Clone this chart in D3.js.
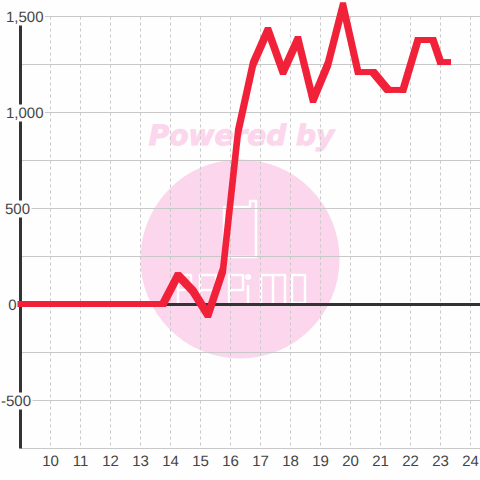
<!DOCTYPE html>
<html>
<head>
<meta charset="utf-8">
<script src="https://cdn.jsdelivr.net/npm/d3@7"></script>
<style>
  html, body { margin: 0; padding: 0; background: #fdfefd; }
  svg { display: block; }
  text { font-family: "Liberation Sans", sans-serif; text-rendering: geometricPrecision; }
</style>
</head>
<body>
<svg id="chart" width="480" height="480"></svg>
<script>
const hours = [9, 9.25, 9.75, 10.25, 10.75, 11.25, 11.75, 12.25, 12.75, 13.25, 13.75, 14.25, 14.75, 15.25, 15.75, 16.25, 16.75, 17.25, 17.75, 18.25, 18.75, 19.25, 19.75, 20.25, 20.75, 21.25, 21.75, 22.25, 22.75, 23, 23.25];
const values = [0, 0, 0, 0, 0, 0, 0, 0, 0, 0, 0, 150, 68, -57, 177, 896, 1250, 1427, 1208, 1380, 1062, 1250, 1555, 1208, 1208, 1115, 1115, 1375, 1375, 1260, 1260];
const xTicks = [10, 11, 12, 13, 14, 15, 16, 17, 18, 19, 20, 21, 22, 23, 24];
const yLabelTicks = [-500, 0, 500, 1000, 1500];
const yGridTicks = [-750, -500, -250, 250, 500, 750, 1000, 1250, 1500];

const x = d3.scaleLinear().domain([9, 24.33]).range([20.5, 480.4]);
const y = d3.scaleLinear().domain([-750, 1500]).range([448.5, 16.5]);
// the labels are not lined up on one edge in the original
const labelEnd = d3.scaleOrdinal().domain(yLabelTicks).range([31, 16.5, 30, 43.5, 43.5]);

const svg = d3.select("#chart");

// watermark
const mark = svg.append("g");
mark.append("circle")
  .attr("cx", 240)
  .attr("cy", 259)
  .attr("r", 99.5)
  .attr("fill", "#fbd6ec");
mark.append("text")
  .attr("x", 241.5)
  .attr("y", 144.5)
  .attr("text-anchor", "middle")
  .style("font-family", "DejaVu Sans")
  .style("font-weight", "bold")
  .style("font-style", "italic")
  .style("font-size", "28px")
  .attr("fill", "#fbd6ec")
  .attr("stroke", "#fbd6ec")
  .text("Powered by");
// logo outline and its lettering
mark.append("path")
  .attr("d", "M224,257V207H250V201H256V257Z"
    + "M178,304V275H191V290H178"
    + "M200,304V275H216V290H200"
    + "M229,304V275H243V290H229"
    + "M248,286V303"
    + "M261,303V275H273V303M273,275H285V303"
    + "M292,275H305V303H292Z")
  .attr("fill", "none")
  .attr("stroke", "#fff")
  .attr("stroke-width", 2.5)
  .attr("stroke-linejoin", "round")
  .attr("stroke-linecap", "round");
mark.append("circle")
  .attr("cx", 248)
  .attr("cy", 277)
  .attr("r", 3)
  .attr("fill", "#fff");

// grid
svg.append("g")
  .selectAll("line")
  .data(xTicks)
  .join("line")
  .attr("x1", d => x(d))
  .attr("x2", d => x(d))
  .attr("y1", y(1500))
  .attr("y2", y(-750))
  .attr("stroke", "#c8c8c8")
  .attr("stroke-dasharray", "3,3");

svg.append("g")
  .selectAll("line")
  .data(yGridTicks)
  .join("line")
  .attr("x1", x(9))
  .attr("x2", 480)
  .attr("y1", d => y(d))
  .attr("y2", d => y(d))
  .attr("stroke", "#c8c8c8");

// axes
svg.append("line")
  .attr("x1", x(9))
  .attr("x2", x(9))
  .attr("y1", y(1500))
  .attr("y2", y(-750))
  .attr("stroke", "#333")
  .attr("stroke-width", 3);
svg.append("line")
  .attr("x1", x(9))
  .attr("x2", 480)
  .attr("y1", y(0))
  .attr("y2", y(0))
  .attr("stroke", "#333")
  .attr("stroke-width", 3);

// series, each segment is swept with a square pen like the original
const pen = 3;
const corners = (i) => {
  const px = x(hours[i]);
  const py = y(values[i]) - 0.5;
  return [[px - pen, py - pen], [px + pen, py - pen], [px + pen, py + pen], [px - pen, py + pen]];
};

svg.append("g")
  .selectAll("path")
  .data(d3.range(values.length - 1))
  .join("path")
  .attr("d", i => "M" + d3.polygonHull(corners(i).concat(corners(i + 1))).join("L") + "Z")
  .attr("fill", "#f02138");

// labels
const yLabels = svg.append("g")
  .selectAll("g")
  .data(yLabelTicks)
  .join("g");

yLabels.append("text")
  .attr("x", d => labelEnd(d))
  .attr("y", d => y(d) + 5)
  .attr("text-anchor", "end")
  .style("font-size", "15px")
  .attr("fill", "#444")
  .text(d => d3.format(",")(d).replace("\u2212", "-"));

yLabels.insert("rect", "text")
  .each(function () {
    const box = this.parentNode.querySelector("text").getBBox();
    d3.select(this)
      .attr("x", box.x - 2)
      .attr("y", box.y)
      .attr("width", box.width + 3.5)
      .attr("height", box.height);
  })
  .attr("fill", d => d === 0 ? "none" : "#fdfefd");

svg.append("g")
  .selectAll("text")
  .data(xTicks)
  .join("text")
  .attr("x", d => x(d))
  .attr("y", 466)
  .attr("text-anchor", "middle")
  .style("font-size", "15px")
  .attr("fill", "#444")
  .text(d => d);
</script>
</body>
</html>
